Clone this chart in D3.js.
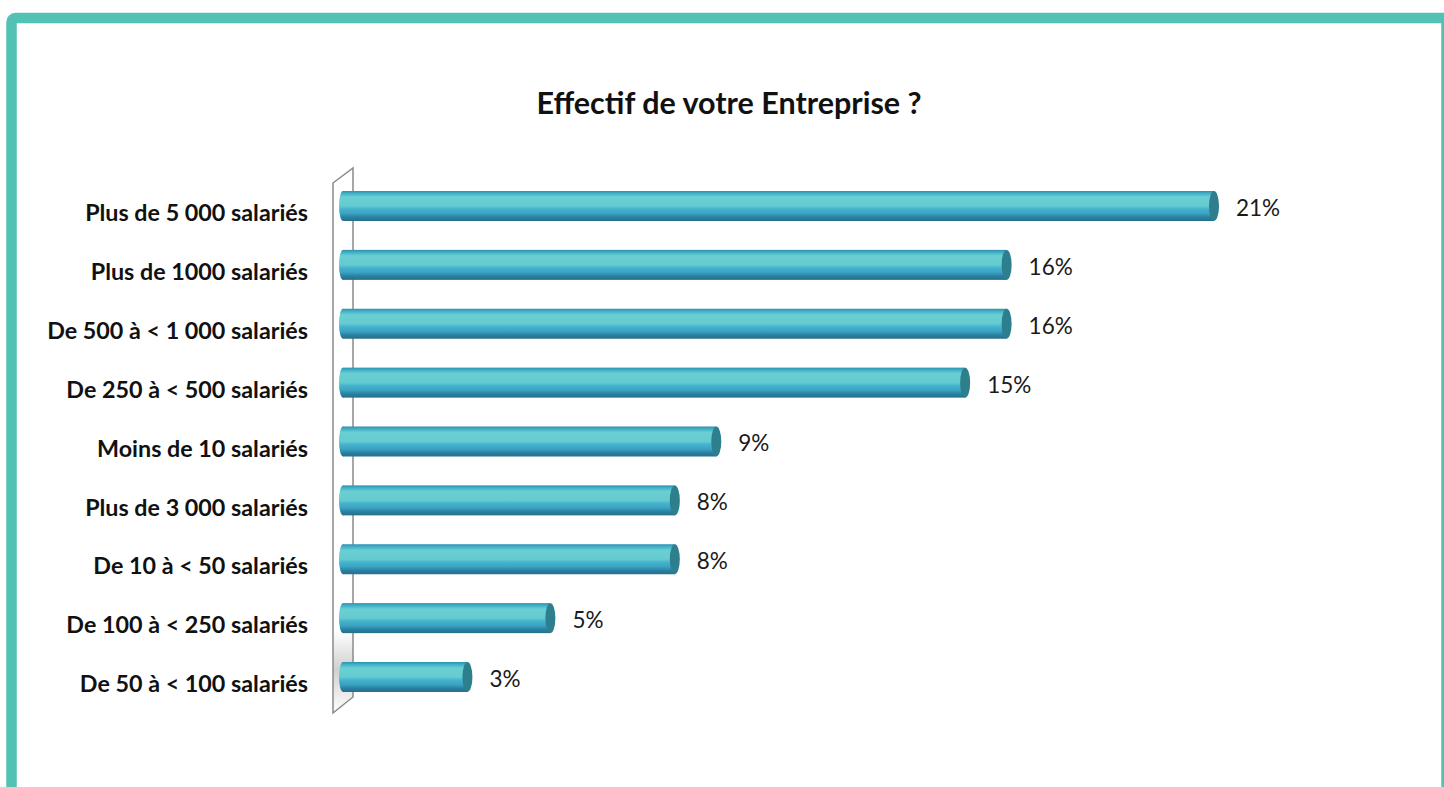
<!DOCTYPE html>
<html>
<head>
<meta charset="utf-8">
<script src="https://cdn.jsdelivr.net/npm/d3@7"></script>
<style>
    body { margin: 0; background: #ffffff; }
    svg { display: block; }
</style>
</head>
<body>
<div class="container"></div>
<script>
var categories = [
    'Plus de 5 000 salariés',
    'Plus de 1000 salariés',
    'De 500 à < 1 000 salariés',
    'De 250 à < 500 salariés',
    'Moins de 10 salariés',
    'Plus de 3 000 salariés',
    'De 10 à < 50 salariés',
    'De 100 à < 250 salariés',
    'De 50 à < 100 salariés'
];
var values = [21, 16, 16, 15, 9, 8, 8, 5, 3];
var valueLabels = ['21%', '16%', '16%', '15%', '9%', '8%', '8%', '5%', '3%'];
var title = 'Effectif de votre Entreprise ?';

var drawChart = function () {

    var WIDTH = 1444;
    var HEIGHT = 787;
    var BAR_H = 30;
    var FONT = "Lato, 'Open Sans', sans-serif";

    var xScale = d3.scaleLinear()
        .domain([0, 21])
        .range([343, 1214]);

    var yScale = d3.scalePoint()
        .domain(categories)
        .range([206, 677]);

    var svg = d3.select('.container')
        .append('svg')
        .attr('width', WIDTH)
        .attr('height', HEIGHT);

    var defs = svg.append('defs');

    var grad = defs.append('linearGradient')
        .attr('id', 'cyl')
        .attr('x1', 0).attr('y1', 0)
        .attr('x2', 0).attr('y2', 1);
    [
        [0, '#2f8fae'], [0.08, '#3fb0c8'], [0.2, '#6acfd2'], [0.5, '#64cbd0'],
        [0.6, '#45b3cd'], [0.75, '#3aa3c4'], [0.88, '#2b7fa0'], [1, '#266f8a']
    ].forEach(function (s) {
        grad.append('stop').attr('offset', s[0]).attr('stop-color', s[1]);
    });

    var wallGrad = defs.append('linearGradient')
        .attr('id', 'wall')
        .attr('x1', 0).attr('y1', 0)
        .attr('x2', 0).attr('y2', 1);
    wallGrad.append('stop').attr('offset', 0).attr('stop-color', '#ffffff');
    wallGrad.append('stop').attr('offset', 0.85).attr('stop-color', '#ffffff');
    wallGrad.append('stop').attr('offset', 0.92).attr('stop-color', '#d0d0d0');
    wallGrad.append('stop').attr('offset', 1).attr('stop-color', '#ffffff');

    // teal frame
    svg.append('rect')
        .attr('x', 11.5)
        .attr('y', 18)
        .attr('width', 1435)
        .attr('height', 820)
        .attr('rx', 4)
        .attr('fill', 'none')
        .attr('stroke', '#52c2b4')
        .attr('stroke-width', 10.5);

    svg.append('text')
        .attr('x', 729)
        .attr('y', 114)
        .attr('text-anchor', 'middle')
        .attr('font-family', FONT)
        .attr('font-size', 30.5)
        .attr('font-weight', 700)
        .attr('fill', '#111')
        .text(title);

    // 3D side wall
    var y0 = yScale.range()[0] - 23;
    var y1 = yScale.range()[1] + 36;
    var xf = xScale(0) - 10;
    var xb = xScale(0) + 10;
    svg.append('path')
        .attr('d', 'M' + xf + ',' + y0 + 'L' + xb + ',' + (y0 - 15) + 'L' + xb + ',' + (y1 - 16) +
            'L' + xf + ',' + y1 + 'Z')
        .attr('fill', 'url(#wall)')
        .attr('stroke', '#8a8a8a')
        .attr('stroke-width', 1.5);

    var bars = svg.selectAll('.bar')
        .data(values)
        .enter()
        .append('g')
        .attr('class', 'bar');

    bars.append('rect')
        .attr('x', xScale(0))
        .attr('y', function (d, i) { return yScale(categories[i]) - BAR_H / 2; })
        .attr('width', function (d) { return xScale(d) - xScale(0); })
        .attr('height', BAR_H)
        .attr('fill', 'url(#cyl)');

    bars.append('ellipse')
        .attr('cx', xScale(0))
        .attr('cy', function (d, i) { return yScale(categories[i]); })
        .attr('rx', 4)
        .attr('ry', BAR_H / 2)
        .attr('fill', 'url(#cyl)');

    bars.append('ellipse')
        .attr('cx', function (d) { return xScale(d); })
        .attr('cy', function (d, i) { return yScale(categories[i]); })
        .attr('rx', 5)
        .attr('ry', BAR_H / 2)
        .attr('fill', '#2e7f8e');

    bars.append('text')
        .attr('x', function (d) { return xScale(d) + 22; })
        .attr('y', function (d, i) { return yScale(categories[i]) + 2; })
        .attr('dy', '0.35em')
        .attr('font-family', FONT)
        .attr('font-size', 22.5)
        .attr('fill', '#1a1a1a')
        .text(function (d, i) { return valueLabels[i]; });

    svg.selectAll('.cat')
        .data(categories)
        .enter()
        .append('text')
        .attr('class', 'cat')
        .attr('x', 308)
        .attr('y', function (d) { return yScale(d) + 7; })
        .attr('dy', '0.35em')
        .attr('text-anchor', 'end')
        .attr('font-family', FONT)
        .attr('font-size', 23.3)
        .attr('font-weight', 700)
        .attr('fill', '#111')
        .text(function (d) { return d; });
};

window.onload = drawChart;
</script>
</body>
</html>
